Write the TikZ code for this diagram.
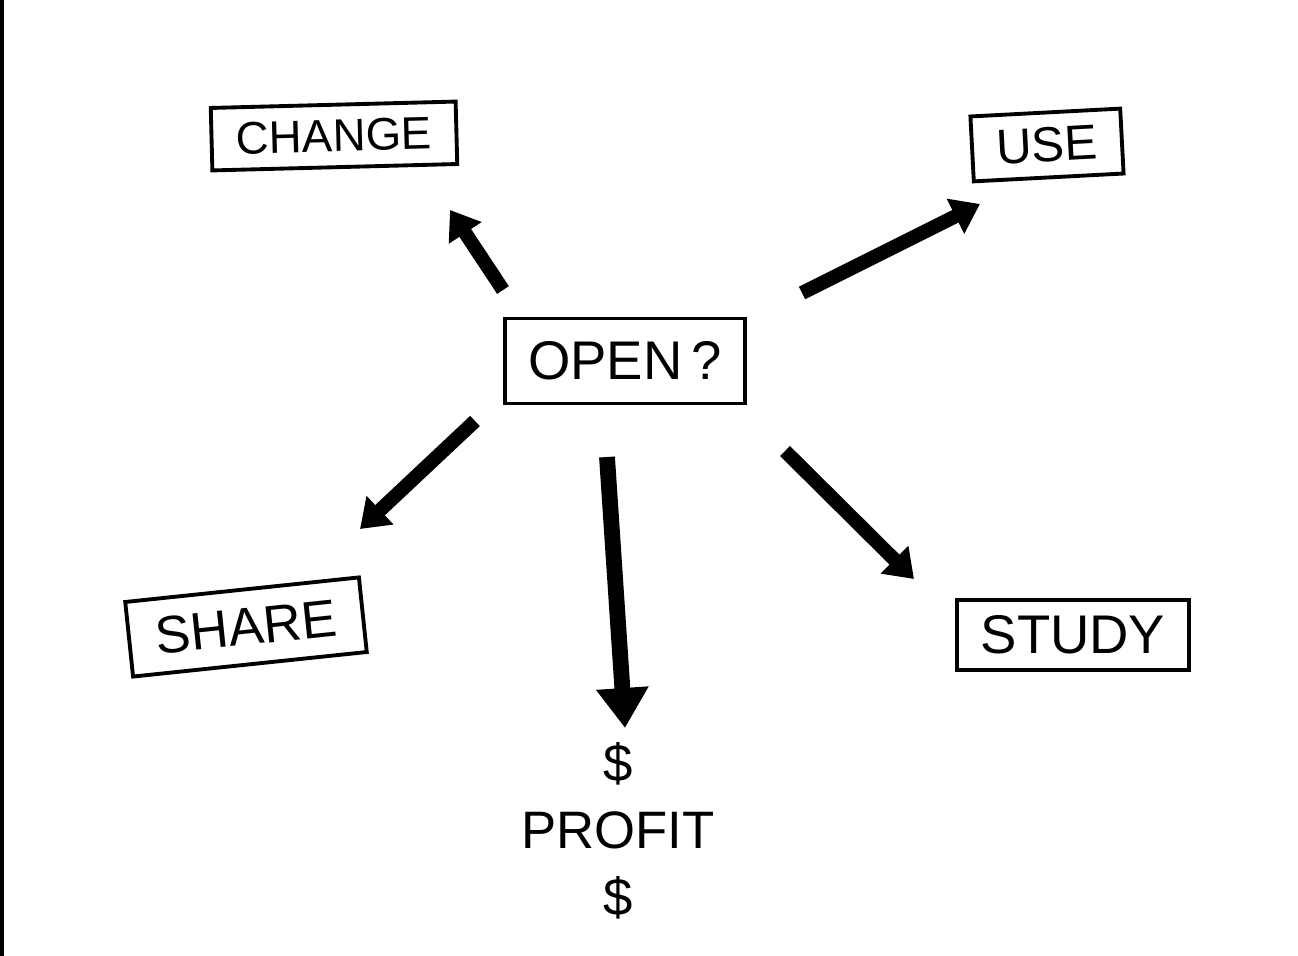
\documentclass[tikz,border=0pt]{standalone}
\usepackage{fontspec}
\setmainfont{Liberation Sans}
\usetikzlibrary{arrows.meta,positioning}

\begin{document}
\begin{tikzpicture}[
    x=0.02cm, y=-0.02cm,
    box/.style={rectangle, draw, line width=2.2pt, inner xsep=0pt, inner ysep=0pt},
    word/.style={font=\fontsize{26}{30}\selectfont},
    bigarrow/.style={line width=8pt, -{Triangle[length=0.55cm, width=0.75cm]}},
    hugearrow/.style={line width=9pt, -{Triangle[length=0.8cm, width=1.0cm]}}
]
    \useasboundingbox (0,0) rectangle (1298,956);
    \fill (0,0) rectangle (4,956);

    % Centre question
    \node[box, minimum width=4.8cm, minimum height=1.7cm, word, font=\fontsize{31}{36}\selectfont] (open) at (625,361) {OPEN\,?};

    % Boxes round it
    \node[box, minimum width=4.9cm, minimum height=1.25cm, word, rotate=1.5] (change) at (334,136) {CHANGE};
    \node[box, minimum width=3.0cm, minimum height=1.3cm, word, font=\fontsize{28}{32}\selectfont, rotate=3] (use) at (1047,145) {USE};
    \node[box, minimum width=4.7cm, minimum height=1.5cm, word, font=\fontsize{30}{34}\selectfont, rotate=6] (share) at (246,627) {SHARE};
    \node[box, minimum width=4.65cm, minimum height=1.4cm, word, font=\fontsize{31}{36}\selectfont] (study) at (1073,635) {STUDY};
    \node[word, align=center, font=\fontsize{30}{38}\selectfont] (profit) at (618,831) {\$\\PROFIT\\\$};

    % Arrow ends
    \coordinate (changeS) at (503,290);
    \coordinate (changeE) at (450,210);
    \coordinate (useS) at (802,293);
    \coordinate (useE) at (980,204);
    \coordinate (shareS) at (475,421);
    \coordinate (shareE) at (360,529);
    \coordinate (profitS) at (607,457);
    \coordinate (profitE) at (625,728);
    \coordinate (studyS) at (785,451);
    \coordinate (studyE) at (914,579);

    % Arrows
    \draw[bigarrow] (changeS) -- (changeE);
    \draw[bigarrow] (useS) -- (useE);
    \draw[bigarrow] (shareS) -- (shareE);
    \draw[hugearrow] (profitS) -- (profitE);
    \draw[bigarrow] (studyS) -- (studyE);
\end{tikzpicture}
\end{document}
